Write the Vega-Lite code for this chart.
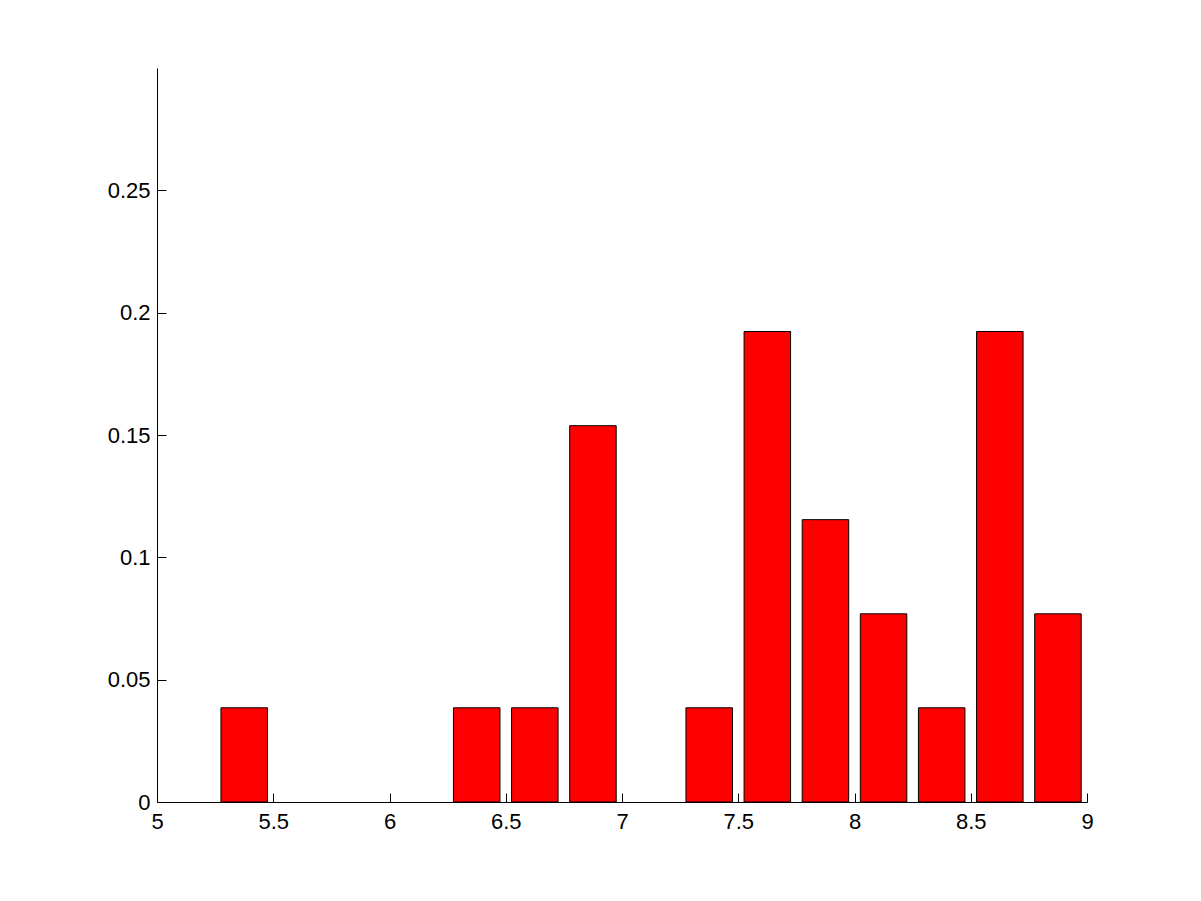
{
  "$schema": "https://vega.github.io/schema/vega-lite/v6.json",
  "width": 930,
  "height": 734,
  "autosize": "none",
  "padding": {"left": 157, "top": 68, "right": 114, "bottom": 99},
  "background": "white",
  "config": {
    "view": {"stroke": null},
    "axis": {
      "labelFont": "Liberation Sans",
      "labelFontSize": 22,
      "labelColor": "black",
      "domainColor": "black",
      "tickColor": "black",
      "grid": false,
      "tickSize": -9,
      "domainWidth": 1,
      "tickWidth": 1,
      "title": null
    }
  },
  "data": {
    "values": [
      {"x": 5.375, "y": 0.0385},
      {"x": 6.375, "y": 0.0385},
      {"x": 6.625, "y": 0.0385},
      {"x": 6.875, "y": 0.1538},
      {"x": 7.375, "y": 0.0385},
      {"x": 7.625, "y": 0.1923},
      {"x": 7.875, "y": 0.1154},
      {"x": 8.125, "y": 0.0769},
      {"x": 8.375, "y": 0.0385},
      {"x": 8.625, "y": 0.1923},
      {"x": 8.875, "y": 0.0769}
    ]
  },
  "mark": {"type": "bar", "color": "#ff0000", "stroke": "black", "strokeWidth": 1, "size": 46.5},
  "encoding": {
    "x": {
      "field": "x", "type": "quantitative",
      "scale": {"domain": [5, 9], "nice": false, "zero": false, "padding": 0},
      "axis": {"values": [5, 5.5, 6, 6.5, 7, 7.5, 8, 8.5, 9], "labelPadding": 18, "labelFlush": false, "format": "~g"}
    },
    "y": {
      "field": "y", "type": "quantitative",
      "scale": {"domain": [0, 0.3], "nice": false},
      "axis": {"values": [0, 0.05, 0.1, 0.15, 0.2, 0.25], "labelPadding": 16, "format": "~g", "labelFlush": false}
    }
  }
}
